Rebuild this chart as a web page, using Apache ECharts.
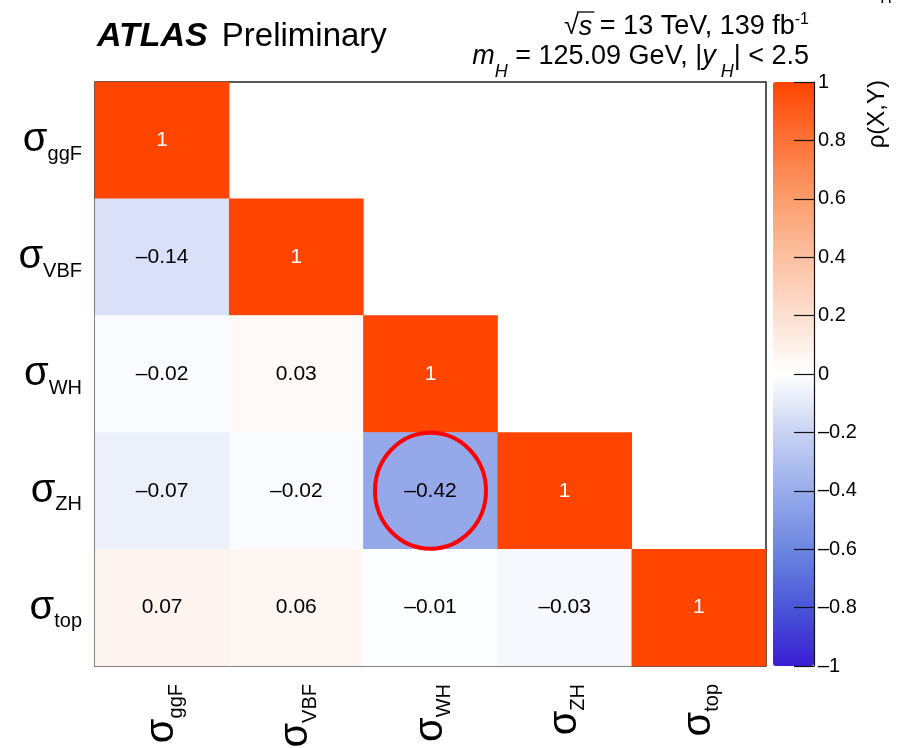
<!DOCTYPE html>
<html>
<head>
<meta charset="utf-8">
<script src="https://cdn.jsdelivr.net/npm/echarts@6/dist/echarts.min.js"></script>
<style>html,body{margin:0;padding:0;background:#fff}#c{width:902px;height:748px}</style>
</head>
<body>
<div id="c"></div>
<script>
// ---- data ----
var processes = ['ggF', 'VBF', 'WH', 'ZH', 'top'];
var rowGgF = [1];
var rowVBF = [-0.14, 1];
var rowWH  = [-0.02, 0.03, 1];
var rowZH  = [-0.07, -0.02, -0.42, 1];
var rowTop = [0.07, 0.06, -0.01, -0.03, 1];
var rows = [rowGgF, rowVBF, rowWH, rowZH, rowTop];
var highlighted = [['WH', 'ZH']]; // [x, y] cell circled in red
var colorbarTicks = [-1, -0.8, -0.6, -0.4, -0.2, 0, 0.2, 0.4, 0.6, 0.8, 1];

var FONT = 'Liberation Sans';
function dash(s) { return String(s).replace('-', '\u2013'); }

var heatData = [];
rows.forEach(function (r, yi) {
  r.forEach(function (v, xi) {
    var item = { value: [xi, yi, v] };
    if (v === 1) item.label = { color: '#ffffff' };
    heatData.push(item);
  });
});
var circleData = highlighted.map(function (p) {
  return [processes.indexOf(p[0]), processes.indexOf(p[1])];
});

var sigmaRich = {
  s: { fontSize: 40, fontFamily: FONT, color: '#000', lineHeight: 44 },
  b: { fontSize: 20, fontFamily: FONT, color: '#000', lineHeight: 48, verticalAlign: 'bottom' }
};
function sigmaLabel(v) { return '{s|\u03c3}{b|' + v + '}'; }

// measure header pieces for the overline over "s"
var HF = 27;
var mctx = document.createElement('canvas').getContext('2d');
function tw(txt, font) { mctx.font = font; return mctx.measureText(txt).width; }
var R = 809;
var wSqrt = tw('\u221a', HF + 'px "' + FONT + '"');
var wS = tw('s', 'italic ' + HF + 'px "' + FONT + '"');
var wRest = tw(' = 13 TeV, 139 fb', HF + 'px "' + FONT + '"');
var wSup = tw('-1', '16px "' + FONT + '"');
var sStart = R - (wSqrt + wS + wRest + wSup) + wSqrt;

var chart = echarts.init(document.getElementById('c'), null, { renderer: 'canvas' });
chart.setOption({
  animation: false,
  backgroundColor: '#ffffff',
  grid: [
    { left: 95, top: 82, width: 671, height: 584, show: true, borderColor: '#222', borderWidth: 1.5, backgroundColor: 'transparent', outerBoundsMode: 'none', containLabel: false },
    { left: 773, top: 82, width: 41, height: 584, show: false, outerBoundsMode: 'none', containLabel: false }
  ],
  xAxis: [
    {
      type: 'category', data: processes, gridIndex: 0,
      axisLine: { show: false }, axisTick: { show: false }, splitLine: { show: false },
      axisLabel: { rotate: 90, margin: 18, formatter: sigmaLabel, rich: sigmaRich }
    },
    { type: 'value', gridIndex: 1, show: false, min: 0, max: 1 }
  ],
  yAxis: [
    {
      type: 'category', data: processes, gridIndex: 0, inverse: true,
      axisLine: { show: false }, axisTick: { show: false }, splitLine: { show: false },
      axisLabel: { margin: 13, formatter: sigmaLabel, rich: sigmaRich }
    },
    {
      type: 'value', gridIndex: 1, position: 'right', min: -1, max: 1, interval: 0.2, z: 10,
      axisLine: { show: true, onZero: false, lineStyle: { color: '#111', width: 1.2 } },
      axisTick: { show: true, inside: true, length: 20, lineStyle: { color: '#111', width: 1.2 } },
      splitLine: { show: false },
      axisLabel: {
        margin: 4, color: '#000', fontSize: 20, fontFamily: FONT,
        formatter: function (v) { var r = Math.round(v * 10) / 10; return dash(r); }
      }
    }
  ],
  visualMap: {
    type: 'continuous', min: -1, max: 1, seriesIndex: 0, z: 1,
    calculable: false, show: true, orient: 'vertical',
    left: 773, top: 82, itemWidth: 41, itemHeight: 584, padding: 0,
    text: null, showLabel: false,
    inRange: { color: ['#3a1dd3', '#4a56d8', '#6d86e1', '#98aceb', '#c8d3f3', '#ffffff', '#fde0d1', '#fcc0a1', '#fc9c6c', '#fd7236', '#ff4500'] }
  },
  series: [
    {
      type: 'heatmap', xAxisIndex: 0, yAxisIndex: 0, data: heatData,
      label: {
        show: true, fontSize: 21, fontFamily: FONT, color: '#000',
        formatter: function (p) { var v = p.value[2]; return v === 1 ? '1' : dash(v.toFixed(2)); }
      },
      itemStyle: { borderWidth: 0 },
      emphasis: { disabled: true }
    },
    {
      type: 'scatter', xAxisIndex: 0, yAxisIndex: 0, data: circleData,
      symbol: 'circle', symbolSize: [111, 116], z: 5, silent: true,
      itemStyle: { color: 'rgba(0,0,0,0)', borderColor: '#ff0000', borderWidth: 4, opacity: 1 }
    }
  ],
  graphic: [
    {
      type: 'text', x: 97, y: 54,
      style: {
        text: '{a|ATLAS}{g| }{b|Preliminary}',
        verticalAlign: 'bottom',
        rich: {
          a: { fontSize: 34, fontWeight: 'bold', fontStyle: 'italic', fontFamily: FONT, fill: '#000', lineHeight: 34 },
          g: { fontSize: 34, fontFamily: FONT, fill: '#000', lineHeight: 34, width: 14 },
          b: { fontSize: 33, fontFamily: FONT, fill: '#000', lineHeight: 34 }
        }
      }
    },
    {
      type: 'text', x: R, y: 42,
      style: {
        text: '{n|\u221a}{i|s}{n| = 13 TeV, 139 fb}{p|-1}',
        align: 'right', verticalAlign: 'bottom',
        rich: {
          n: { fontSize: HF, fontFamily: FONT, fill: '#000', lineHeight: 30 },
          i: { fontSize: HF, fontFamily: FONT, fontStyle: 'italic', fill: '#000', lineHeight: 30 },
          p: { fontSize: 16, fontFamily: FONT, fill: '#000', lineHeight: 30, verticalAlign: 'top' }
        }
      }
    },
    { type: 'line', shape: { x1: sStart - 2, y1: 12, x2: sStart + wS + 2, y2: 12 }, style: { stroke: '#000', lineWidth: 1.3 } },
    {
      type: 'text', x: R, y: 81,
      style: {
        text: '{i|m}{u|H}{n| = 125.09 GeV, |}{i|y}{u| H}{n|| < 2.5}',
        align: 'right', verticalAlign: 'bottom',
        rich: {
          n: { fontSize: HF, fontFamily: FONT, fill: '#000', lineHeight: 30, verticalAlign: 'top' },
          i: { fontSize: HF, fontFamily: FONT, fontStyle: 'italic', fill: '#000', lineHeight: 30, verticalAlign: 'top' },
          u: { fontSize: 18, fontFamily: FONT, fontStyle: 'italic', fill: '#000', lineHeight: 38, verticalAlign: 'bottom' }
        }
      }
    },
    {
      type: 'text', x: 877, y: 80, rotation: Math.PI / 2,
      style: { text: '\u03c1(X,Y)', align: 'right', verticalAlign: 'middle', fontSize: 24, fontFamily: FONT, fill: '#000' }
    },
    {
      type: 'text', x: 886, y: 7,
      style: { text: 'H', align: 'center', verticalAlign: 'bottom', fontSize: 16, fontFamily: FONT, fill: '#000' }
    }
  ]
});
</script>
</body>
</html>
